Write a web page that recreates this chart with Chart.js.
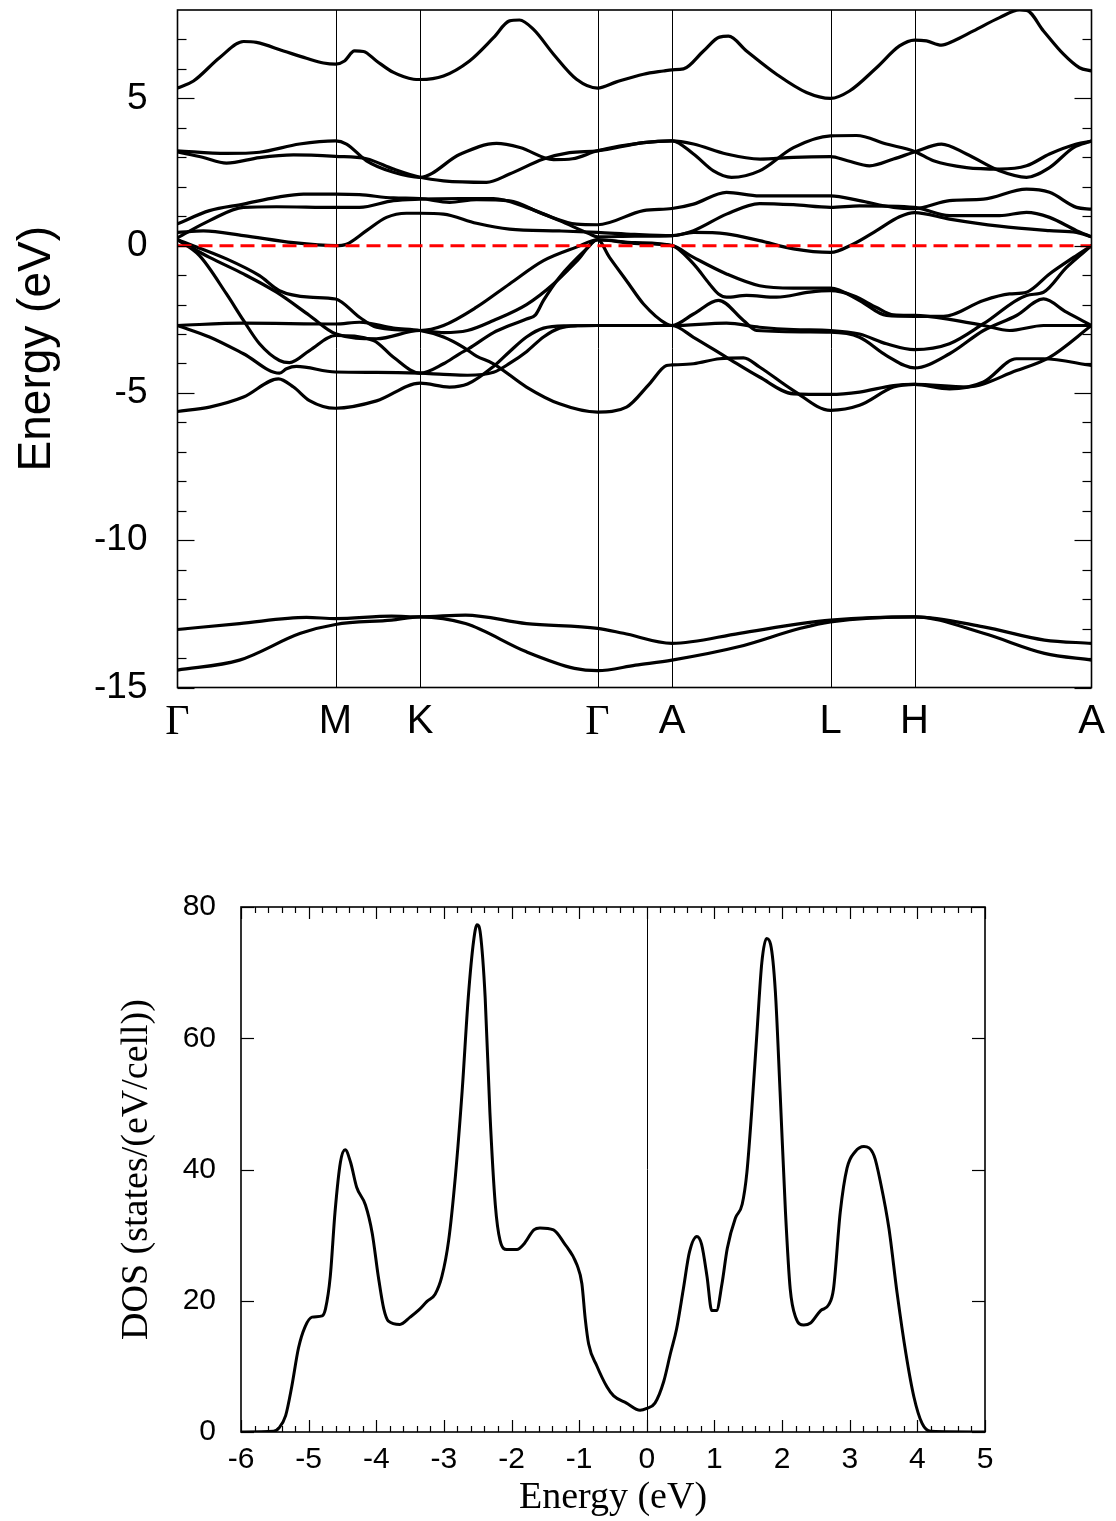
<!DOCTYPE html>
<html><head><meta charset="utf-8">
<script src="https://cdn.jsdelivr.net/npm/chart.js@4.4.0/dist/chart.umd.min.js"></script>
<style>
html,body{margin:0;padding:0;background:#fff;}
#c1{position:absolute;left:0;top:0;}
#c2{position:absolute;left:0;top:760px;}
</style></head><body>
<canvas id="c1" width="1116" height="760"></canvas>
<canvas id="c2" width="1116" height="761"></canvas>
<script>
// ---------- Band structure data (k in path units, E in eV) ----------
const kPos = [0, 158, 242.5, 420, 494.5, 653, 737, 914];
const kLabels = ['Γ', 'M', 'K', 'Γ', 'A', 'L', 'H', 'A'];
const eMajorTicks = [-15, -10, -5, 0, 5];
const eMinorTicks = [-14,-13,-12,-11,-9,-8,-7,-6,-4,-3,-2,-1,1,2,3,4,6,7];

const sBand1 = [[0,-13.03],[62,-12.83],[129,-12.62],[158,-12.66],[214,-12.58],[242.5,-12.6],[288,-12.54],[349,-12.83],[420,-12.99],[446,-13.16],[494.5,-13.5],[562,-13.16],[623,-12.83],[653,-12.71],[737,-12.6],[806,-12.94],[867,-13.39],[914,-13.5]];
const sBand2 = [[0,-14.41],[62,-14.07],[123,-13.16],[158,-12.86],[214,-12.71],[242.5,-12.6],[288,-12.83],[349,-13.79],[397,-14.35],[420,-14.43],[458,-14.24],[494.5,-14.07],[562,-13.61],[623,-12.99],[653,-12.77],[737,-12.6],[806,-13.16],[867,-13.84],[914,-14.07]];

const vBandA = [[0,0.2],[49,-0.45],[82,-1.02],[102,-1.53],[132,-1.75],[158,-1.81],[182,-2.43],[199,-2.77],[242.5,-2.88],[266,-2.71],[299,-2.09],[332,-1.3],[366,-0.51],[399,-0.05],[420,0.2],[457,0.08],[494.5,0],[516,-0.4],[549,-0.96],[582,-1.36],[616,-1.44],[653,-1.44],[682,-1.86],[709,-2.37],[737,-2.4],[766,-2.4],[806,-1.86],[832,-1.64],[849,-1.58],[872,-0.96],[896,-0.4],[914,0]];
const vBandB = [[0,0.2],[32,-0.4],[66,-0.96],[99,-1.58],[132,-2.37],[158,-2.99],[199,-3.16],[242.5,-2.88],[266,-2.95],[290,-2.88],[316,-2.54],[349,-2.0],[376,-1.3],[400,-0.5],[420,0.2],[457,0.1],[494.5,0],[516,-0.62],[532,-1.3],[541,-1.64],[549,-1.75],[569,-1.69],[599,-1.75],[632,-1.58],[653,-1.53],[676,-1.7],[699,-2.1],[716,-2.35],[737,-2.37],[772,-2.5],[806,-2.71],[832,-2.88],[866,-2.71],[914,-2.71]];
const vBandC = [[0,0.2],[22,-0.34],[49,-1.64],[66,-2.54],[82,-3.33],[102,-3.9],[112,-3.97],[132,-3.56],[158,-3.05],[196,-3.22],[216,-3.79],[242.5,-4.33],[266,-4.01],[282,-3.67],[291,-3.5],[316,-2.95],[332,-2.71],[349,-2.49],[358,-2.35],[366,-1.86],[382,-1.07],[409,-0.11],[420,0.2],[432,-0.4],[449,-1.19],[466,-1.98],[489,-2.66],[494.5,-2.71],[516,-2.32],[541,-1.86],[566,-2.54],[579,-2.88],[653,-2.94],[682,-3.11],[709,-3.73],[737,-4.15],[772,-3.67],[806,-2.88],[839,-2.37],[866,-1.81],[889,-2.26],[914,-2.71]];
const vBandD = [[0,-2.71],[66,-2.63],[158,-2.66],[182,-2.6],[216,-2.8],[242.5,-2.88],[266,-3.1],[286,-3.45],[299,-3.75],[316,-4.01],[349,-4.8],[382,-5.37],[420,-5.65],[449,-5.48],[472,-4.69],[489,-4.07],[494.5,-4.05],[516,-4.01],[542,-3.84],[566,-3.81],[582,-4.12],[616,-4.92],[653,-5.59],[682,-5.42],[716,-4.8],[737,-4.71],[789,-4.8],[839,-4.24],[872,-3.79],[914,-2.71]];
const vBandE = [[0,-2.71],[32,-3.1],[66,-3.67],[102,-4.33],[109,-4.18],[119,-4.1],[158,-4.29],[199,-4.3],[242.5,-4.33],[266,-4.37],[290,-4.4],[316,-4.3],[332,-4.0],[349,-3.6],[366,-3.1],[382,-2.8],[400,-2.72],[420,-2.71],[494.5,-2.71],[549,-2.63],[582,-2.77],[616,-2.85],[653,-2.88],[682,-3.0],[709,-3.33],[737,-3.53],[772,-3.33],[806,-2.65],[849,-1.69],[866,-1.58],[889,-0.74],[914,0]];
const vBandF = [[0,-5.63],[32,-5.48],[66,-5.14],[101,-4.52],[116,-4.8],[132,-5.26],[158,-5.52],[199,-5.27],[242.5,-4.67],[272,-4.8],[290,-4.7],[316,-4.1],[332,-3.6],[349,-3.1],[366,-2.8],[390,-2.72],[420,-2.71],[494.5,-2.71],[516,-3.11],[549,-3.79],[582,-4.46],[616,-5.03],[653,-5.05],[682,-4.97],[716,-4.75],[737,-4.71],[772,-4.86],[806,-4.63],[839,-3.84],[866,-3.84],[914,-4.07]];

const cBandA = [[0,0.45],[26,0.5],[66,0.34],[116,0.1],[158,0],[169,0.05],[189,0.51],[209,0.96],[229,1.1],[242.5,1.1],[266,1.07],[299,0.76],[332,0.56],[382,0.5],[420,0.45],[457,0.38],[494.5,0.34],[516,0.45],[549,0.4],[582,0.17],[616,-0.11],[653,-0.23],[676,0.06],[699,0.51],[722,0.98],[737,1.12],[772,0.9],[822,0.66],[872,0.51],[899,0.45],[914,0.3]];
const cBandB = [[0,0.27],[32,0.85],[66,1.3],[99,1.32],[158,1.3],[182,1.3],[216,1.53],[242.5,1.58],[282,1.6],[316,1.6],[349,1.3],[382,0.85],[412,0.4],[420,0.3],[457,0.32],[494.5,0.34],[516,0.51],[549,1.07],[582,1.43],[616,1.39],[653,1.3],[682,1.35],[737,1.3],[772,1.02],[822,1.02],[849,1.13],[872,0.96],[899,0.51],[914,0.3]];
const cBandC = [[0,0.74],[32,1.19],[66,1.41],[99,1.64],[126,1.75],[158,1.75],[182,1.73],[216,1.62],[242.5,1.6],[272,1.47],[299,1.56],[332,1.52],[366,1.07],[399,0.73],[420,0.71],[466,1.19],[494.5,1.26],[516,1.41],[549,1.81],[582,1.69],[653,1.69],[682,1.53],[716,1.3],[737,1.26],[772,1.53],[806,1.58],[849,1.92],[872,1.81],[899,1.3],[914,1.24]];
const cBandD = [[0,3.18],[25,3.0],[49,2.8],[82,2.99],[116,3.08],[158,3.03],[189,2.95],[216,2.6],[242.5,2.32],[266,2.2],[309,2.15],[332,2.43],[366,2.94],[392,3.16],[420,3.22],[466,3.5],[494.5,3.56],[516,3.11],[536,2.54],[554,2.32],[582,2.54],[616,3.33],[653,3.73],[679,3.74],[709,3.45],[737,3.2],[756,2.88],[789,2.65],[822,2.6],[849,2.71],[872,3.11],[899,3.45],[914,3.55]];
const cBandE = [[0,3.22],[49,3.13],[82,3.17],[122,3.45],[158,3.56],[169,3.45],[189,2.88],[216,2.49],[242.5,2.32],[282.5,3.1],[319,3.47],[342.5,3.33],[376,2.92],[395,2.95],[420,3.22],[466,3.5],[494.5,3.56],[516,3.45],[549,3.11],[582.5,2.94],[616,3.0],[653,3.02],[670,2.88],[692,2.71],[716,2.94],[737,3.18],[764,3.45],[789,3.11],[822,2.54],[849,2.32],[872,2.65],[896,3.33],[914,3.55]];
const cBandF = [[0,5.35],[16,5.59],[42,6.38],[66,6.93],[79,6.9],[106,6.61],[129,6.36],[146,6.2],[158,6.16],[167,6.27],[177,6.61],[186,6.59],[199,6.27],[216,5.88],[236,5.65],[242.5,5.64],[266,5.76],[292,6.27],[316,7.06],[332,7.63],[342,7.66],[356,7.34],[376,6.5],[399,5.65],[420,5.35],[439,5.56],[466,5.82],[486,5.93],[494.5,5.97],[506,6.0],[526,6.61],[542,7.08],[551,7.11],[569,6.61],[599,5.82],[629,5.2],[653,5.0],[672,5.25],[699,6.04],[722,6.78],[737,6.98],[749,6.95],[764,6.81],[776,6.95],[796,7.29],[822,7.74],[842,8.0],[849,7.99],[866,7.29],[886,6.5],[902,6.04],[914,5.93]];

const bands = [sBand1, sBand2, vBandA, vBandB, vBandC, vBandD, vBandE, vBandF, cBandA, cBandB, cBandC, cBandD, cBandE, cBandF];
const fermiLevel = 0;

// ---------- DOS data ----------
const dosEnergy = [-6,-5.52,-5.44,-5.34,-5.25,-5.15,-5.05,-4.95,-4.8,-4.75,-4.68,-4.61,-4.53,-4.46,-4.38,-4.29,-4.16,-4.06,-3.97,-3.89,-3.82,-3.65,-3.5,-3.37,-3.25,-3.13,-3.03,-2.93,-2.83,-2.73,-2.64,-2.56,-2.51,-2.46,-2.39,-2.32,-2.24,-2.17,-2.07,-1.92,-1.82,-1.67,-1.58,-1.38,-1.23,-1.03,-0.96,-0.91,-0.86,-0.74,-0.59,-0.49,-0.3,-0.1,0,0.12,0.25,0.35,0.44,0.54,0.63,0.74,0.81,0.89,0.96,1.03,1.11,1.19,1.31,1.41,1.48,1.55,1.63,1.7,1.77,1.83,1.9,1.97,2.05,2.12,2.2,2.32,2.42,2.57,2.69,2.76,2.86,2.96,3.08,3.21,3.36,3.46,3.58,3.7,3.83,3.95,4.07,4.2,5];
const dosValue  = [0,0.1,0.6,2.5,6.9,12.8,16.1,17.5,17.7,18.8,23.7,33.5,41.1,43.0,41.1,37.3,34.6,30.3,23.7,18.8,16.9,16.4,17.5,18.6,19.9,21.0,23.7,29.2,39.0,52.0,66.2,74.9,77.3,75.9,66.2,48.7,34.6,29.2,27.8,27.8,28.6,30.8,31.1,30.8,28.9,25.4,22.6,17.2,13.4,10.1,6.9,5.5,4.4,3.3,3.6,4.4,7.7,12.0,15.7,21.8,27.4,29.8,28.6,23.7,18.5,18.5,22.5,28.0,32.6,34.7,39.6,48.8,61.1,71.5,75.2,74.3,67.2,51.9,33.5,21.8,17.5,16.3,16.6,18.5,19.4,21.8,33.5,40.2,42.7,43.5,42.1,37.8,31.0,21.2,12.0,5.3,1.3,0.1,0];
const dosXTicks = [-6,-5,-4,-3,-2,-1,0,1,2,3,4,5];
const dosYTicks = [0,20,40,60,80];

// ---------- helpers ----------
function line(ctx, x1, y1, x2, y2) { ctx.beginPath(); ctx.moveTo(x1, y1); ctx.lineTo(x2, y2); ctx.stroke(); }

const framePlugin = {
  id: 'frame',
  beforeDatasetsDraw(chart, args, o) {
    const {ctx, chartArea: a, scales: {x}} = chart;
    ctx.save(); ctx.strokeStyle = '#000'; ctx.lineWidth = 1;
    (o.vlines || []).forEach(v => { const px = Math.round(x.getPixelForValue(v)) + 0.5; line(ctx, px, a.top, px, a.bottom); });
    ctx.restore();
  },
  afterDraw(chart, args, o) {
    const {ctx, chartArea: a, scales: {x, y}} = chart;
    ctx.save(); ctx.strokeStyle = '#000';
    ctx.lineWidth = 1.2;
    (o.yTicks || []).forEach(([v, len]) => {
      const py = Math.round(y.getPixelForValue(v)) + 0.5;
      line(ctx, a.left, py, a.left + len, py); line(ctx, a.right, py, a.right - len, py);
    });
    (o.xTicks || []).forEach(([v, len]) => {
      const px = Math.round(x.getPixelForValue(v)) + 0.5;
      line(ctx, px, a.bottom, px, a.bottom - len); line(ctx, px, a.top, px, a.top + len);
    });
    ctx.lineWidth = 1.6;
    ctx.strokeRect(a.left, a.top, a.right - a.left, a.bottom - a.top);
    ctx.restore();
  }
};

// ---------- Band chart ----------
const bandDatasets = bands.map(b => ({
  data: b.map(([k, e]) => ({x: k, y: e})),
  borderColor: '#000', borderWidth: 3.2, pointRadius: 0, fill: false,
  cubicInterpolationMode: 'monotone'
}));
bandDatasets.push({
  data: [{x: kPos[0], y: fermiLevel}, {x: kPos[kPos.length - 1], y: fermiLevel}],
  borderColor: '#ff0000', borderWidth: 3, borderDash: [14, 7], pointRadius: 0, order: -1
});

const bandYTickMarks = eMajorTicks.map(v => [v, 17]).concat(eMinorTicks.map(v => [v, 9]));

new Chart(document.getElementById('c1'), {
  type: 'line',
  data: {datasets: bandDatasets},
  options: {
    responsive: false, animation: false, devicePixelRatio: 1,
    layout: {padding: {top: 10, right: 24.5, left: 0, bottom: 0}},
    plugins: {legend: {display: false}, tooltip: {enabled: false},
      frame: {vlines: kPos.slice(1, -1), yTicks: bandYTickMarks}},
    scales: {
      x: {type: 'linear', min: kPos[0], max: kPos[kPos.length - 1],
        afterBuildTicks: s => { s.ticks = kPos.map(v => ({value: v})); },
        afterFit: s => { s.height = 72.5; s.paddingLeft = 0; s.paddingRight = 0; },
        grid: {display: false, drawTicks: false}, border: {display: false},
        ticks: {autoSkip: false, maxRotation: 0, padding: 10, color: '#000',
          callback: (v, i) => kLabels[i],
          font: c => (c.tick && kLabels[c.index] === 'Γ') ? {family: 'Liberation Serif', size: 42} : {family: 'Liberation Sans', size: 40}}
      },
      y: {type: 'linear', min: -15, max: 8,
        afterBuildTicks: s => { s.ticks = eMajorTicks.map(v => ({value: v})); },
        afterFit: s => { s.width = 177.5; s.paddingTop = 0; s.paddingBottom = 0; },
        grid: {display: false, drawTicks: false}, border: {display: false},
        ticks: {padding: 30, color: '#000', font: {family: 'Liberation Sans', size: 37}},
        title: {display: true, text: 'Energy (eV)', color: '#000', font: {family: 'Liberation Sans', size: 46}, padding: {top: 10, bottom: 0}}
      }
    }
  },
  plugins: [framePlugin]
});

// ---------- DOS chart ----------
const dosXTickMarks = [];
for (let i = 0; i <= 55; i++) {
  const v = -6 + i * 0.2;
  dosXTickMarks.push([v, (i % 5 === 0) ? 12 : 6]);
}
new Chart(document.getElementById('c2'), {
  type: 'line',
  data: {datasets: [{
    data: dosEnergy.map((e, i) => ({x: e, y: dosValue[i]})),
    borderColor: '#000', borderWidth: 3, pointRadius: 0, fill: false,
    cubicInterpolationMode: 'monotone'
  }]},
  options: {
    responsive: false, animation: false, devicePixelRatio: 1,
    layout: {padding: {top: 147, right: 131, left: 0, bottom: 0}},
    plugins: {legend: {display: false}, tooltip: {enabled: false},
      frame: {vlines: [0], yTicks: dosYTicks.map(v => [v, 13]), xTicks: dosXTickMarks}},
    scales: {
      x: {type: 'linear', min: -6, max: 5,
        afterBuildTicks: s => { s.ticks = dosXTicks.map(v => ({value: v})); },
        afterFit: s => { s.height = 89; s.paddingLeft = 0; s.paddingRight = 0; },
        grid: {display: false, drawTicks: false}, border: {display: false},
        ticks: {autoSkip: false, maxRotation: 0, padding: 10, color: '#000', font: {family: 'Liberation Sans', size: 30}},
        title: {display: true, text: 'Energy (eV)', color: '#000', font: {family: 'Liberation Serif', size: 38}, padding: {top: 0, bottom: 0}}
      },
      y: {type: 'linear', min: 0, max: 80,
        afterBuildTicks: s => { s.ticks = dosYTicks.map(v => ({value: v})); },
        afterFit: s => { s.width = 241; s.paddingTop = 0; s.paddingBottom = 0; },
        grid: {display: false, drawTicks: false}, border: {display: false},
        ticks: {padding: 25, color: '#000', font: {family: 'Liberation Sans', size: 30}},
        title: {display: true, text: 'DOS (states/(eV/cell))', color: '#000', font: {family: 'Liberation Serif', size: 38}, padding: {top: 114, bottom: 0}}
      }
    }
  },
  plugins: [framePlugin]
});
</script></body></html>
